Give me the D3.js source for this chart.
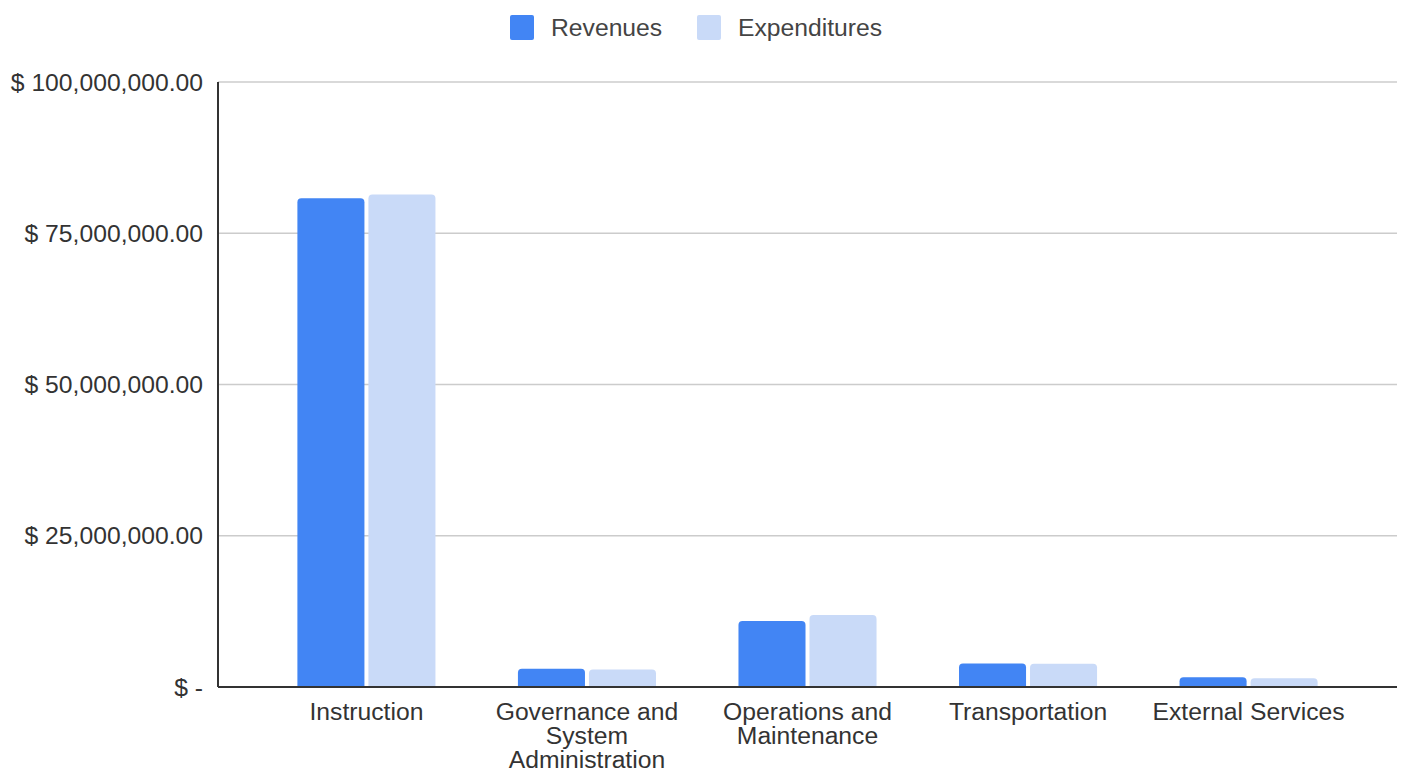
<!DOCTYPE html>
<html>
<head>
<meta charset="utf-8">
<script src="https://cdn.jsdelivr.net/npm/d3@7"></script>
<style>
  body { margin: 0; background: #fff; }
  svg text { font-family: "Liberation Sans", Arial, sans-serif; }
</style>
</head>
<body>
<div id="chart"></div>
<script>
// chart data
const categories = ["Instruction", "Governance and System Administration", "Operations and Maintenance", "Transportation", "External Services"];
const labelLines = [["Instruction"], ["Governance and", "System", "Administration"], ["Operations and", "Maintenance"], ["Transportation"], ["External Services"]];
const seriesNames = ["Revenues", "Expenditures"];
const revenues = [80800000, 3000000, 10900000, 3900000, 1600000];
const expenditures = [81400000, 2900000, 11900000, 3850000, 1450000];
const yTicks = [0, 25000000, 50000000, 75000000, 100000000];
const colors = ["#4285f4", "#c9daf8"];

const W = 1402, H = 772;
const margin = { top: 82, right: 5, bottom: 85, left: 218 };
const fontSize = 24.7;

const svg = d3.select("#chart").append("svg")
  .attr("width", W).attr("height", H);

const data = categories.map((c, i) => ({ cat: c, lines: labelLines[i], values: [revenues[i], expenditures[i]] }));

// scales
const x = d3.scaleBand()
  .domain(categories)
  .range([margin.left, W - margin.right])
  .paddingInner(0.374)
  .paddingOuter(0.36);

const xSub = d3.scaleBand()
  .domain(seriesNames)
  .range([0, x.bandwidth()])
  .paddingInner(0.056);

const y = d3.scaleLinear()
  .domain([0, 100000000])
  .range([H - margin.bottom, margin.top]);

// gridlines
svg.append("g")
  .selectAll("line")
  .data(yTicks)
  .join("line")
    .attr("x1", margin.left).attr("x2", W - margin.right)
    .attr("y1", d => y(d)).attr("y2", d => y(d))
    .attr("stroke", "#cccccc").attr("stroke-width", 1.5);

// y labels
const fmt = d => d === 0 ? "$ -" : "$ " + d3.format(",.2f")(d);
svg.append("g")
  .selectAll("text")
  .data(yTicks)
  .join("text")
    .attr("x", 203)
    .attr("y", d => y(d))
    .attr("dy", "0.35em")
    .attr("text-anchor", "end")
    .attr("font-size", fontSize)
    .attr("fill", "#333")
    .text(fmt);

// bars, rounded on top
function barPath(x0, w, yTop, yBase) {
  const r = Math.min(4, (yBase - yTop), w / 2);
  return `M${x0},${yBase}V${yTop + r}Q${x0},${yTop} ${x0 + r},${yTop}H${x0 + w - r}Q${x0 + w},${yTop} ${x0 + w},${yTop + r}V${yBase}Z`;
}

svg.append("g")
  .selectAll("g")
  .data(data)
  .join("g")
    .attr("transform", d => `translate(${x(d.cat)},0)`)
  .selectAll("path")
  .data(d => d.values.map((v, i) => ({ key: seriesNames[i], value: v, i: i })))
  .join("path")
    .attr("d", d => barPath(xSub(d.key), xSub.bandwidth(), y(d.value), y(0)))
    .attr("fill", d => colors[d.i]);

// axes lines
svg.append("line")
  .attr("x1", margin.left).attr("x2", margin.left)
  .attr("y1", margin.top).attr("y2", y(0))
  .attr("stroke", "#333").attr("stroke-width", 2);
svg.append("line")
  .attr("x1", margin.left).attr("x2", W - margin.right)
  .attr("y1", y(0)).attr("y2", y(0))
  .attr("stroke", "#333").attr("stroke-width", 2);

// x labels
const xl = svg.append("g")
  .selectAll("text")
  .data(data)
  .join("text")
    .attr("x", d => x(d.cat) + x.bandwidth() / 2)
    .attr("y", y(0) + 33)
    .attr("text-anchor", "middle")
    .attr("font-size", fontSize)
    .attr("fill", "#333");
xl.selectAll("tspan")
  .data(d => d.lines.map(l => ({ l, x: x(d.cat) + x.bandwidth() / 2 })))
  .join("tspan")
    .attr("x", d => d.x)
    .attr("dy", (d, i) => i === 0 ? 0 : 24)
    .text(d => d.l);

// legend
const legendX = [510, 697];
const leg = svg.append("g")
  .selectAll("g")
  .data(seriesNames)
  .join("g")
    .attr("transform", (d, i) => `translate(${legendX[i]},15)`);
leg.append("rect")
  .attr("width", 24).attr("height", 25).attr("rx", 2)
  .attr("fill", (d, i) => colors[i]);
leg.append("text")
  .attr("x", 41).attr("y", 12.5).attr("dy", "0.35em")
  .attr("font-size", fontSize)
  .attr("fill", "#444")
  .text(d => d);
</script>
</body>
</html>
